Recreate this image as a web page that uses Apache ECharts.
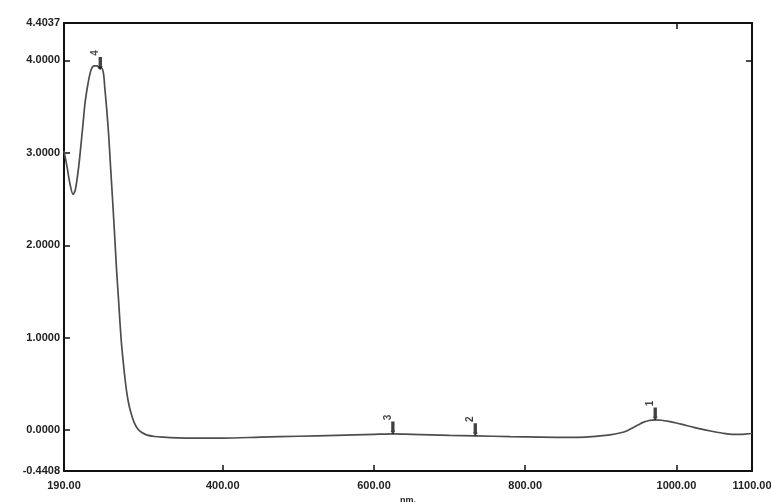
<!DOCTYPE html>
<html>
<head>
<meta charset="utf-8">
<script src="https://cdn.jsdelivr.net/npm/echarts@6/dist/echarts.min.js"></script>
<style>
html,body{margin:0;padding:0;background:#fff;}
#chart{width:771px;height:502px;}
</style>
</head>
<body>
<div id="chart"></div>
<script>
// Wavelength (nm) and absorbance
const wavelengths = [190,194,198,202,205,209,212,215,218,222,226,230,234,237,239,242,244,246.5,249,251,253,255,257.5,259.7,262,264,266,268.4,270.5,273,276,279.6,283,288,293,299,310,321,340,360,400,450,500,550,600,625,650,700,734,780,820,860,880,899,912,925,935,943,950,956,964,972,980,990,1000,1009,1020,1030,1045,1060,1075,1085,1093,1100];
const absorbance  = [3.02,2.85,2.66,2.55,2.6,2.82,3.05,3.3,3.55,3.76,3.9,3.94,3.94,3.91,3.92,3.87,3.7,3.47,3.2,2.93,2.66,2.39,2.03,1.71,1.43,1.17,0.94,0.735,0.57,0.41,0.27,0.16,0.08,0.01,-0.025,-0.05,-0.068,-0.075,-0.082,-0.085,-0.085,-0.075,-0.065,-0.055,-0.045,-0.04,-0.045,-0.055,-0.06,-0.07,-0.075,-0.078,-0.074,-0.062,-0.05,-0.03,-0.005,0.03,0.06,0.085,0.105,0.112,0.108,0.095,0.078,0.06,0.038,0.018,-0.008,-0.03,-0.045,-0.045,-0.04,-0.035];

// Picked peaks
const peakNm     = [972, 734, 625, 238];
const peakAbs    = [0.112, -0.06, -0.04, 3.9];
const peakLabels = ['1', '2', '3', '4'];

// Tick labels
const xTicks = [190, 400, 600, 800, 1000, 1100];
const yTicks = [-0.4408, 0, 1, 2, 3, 4, 4.4037];
const yTickMarks = [0, 1, 2, 3, 4];
const xMin = 190, xMax = 1100, yMin = -0.4408, yMax = 4.4037;

const lineData = wavelengths.map((w, i) => [w, absorbance[i]]);
const peakData = peakNm.map((w, i) => ({value: [w, peakAbs[i]], name: peakLabels[i]}));

const chart = echarts.init(document.getElementById('chart'), null, {renderer: 'canvas'});
const labelFont = {fontFamily: 'Liberation Sans, Arial, sans-serif', fontSize: 11, fontWeight: 'bold', color: '#222'};
const axisLineStyle = {lineStyle: {color: '#111', width: 2}};

chart.setOption({
  backgroundColor: '#fff',
  animation: false,
  grid: {left: 64, right: 19, top: 23, bottom: 31, containLabel: false, outerBoundsMode: 'none'},
  xAxis: [{
    type: 'value', min: xMin, max: xMax, position: 'bottom',
    name: 'nm.', nameLocation: 'middle', nameGap: 25,
    nameTextStyle: {fontFamily: 'Liberation Sans, Arial, sans-serif', fontSize: 9, fontWeight: 'bold', color: '#222'},
    axisLine: Object.assign({show: true, onZero: false}, axisLineStyle),
    axisTick: {show: true, inside: true, length: 6, lineStyle: {color: '#111', width: 1.5}, customValues: xTicks},
    axisLabel: Object.assign({margin: 9, customValues: xTicks, formatter: v => v.toFixed(2)}, labelFont),
    splitLine: {show: false}
  }, {
    type: 'value', min: xMin, max: xMax, position: 'top',
    axisLine: Object.assign({show: true, onZero: false}, axisLineStyle),
    axisTick: {show: true, inside: true, length: 6, lineStyle: {color: '#111', width: 1.5}, customValues: [1000]},
    axisLabel: {show: false},
    splitLine: {show: false}
  }],
  yAxis: [{
    type: 'value', min: yMin, max: yMax, position: 'left',
    axisLine: Object.assign({show: true, onZero: false}, axisLineStyle),
    axisTick: {show: true, inside: true, length: 6, lineStyle: {color: '#111', width: 1.5}, customValues: yTickMarks},
    axisLabel: Object.assign({margin: 4, customValues: yTicks, formatter: v => v.toFixed(4)}, labelFont),
    splitLine: {show: false}
  }, {
    type: 'value', min: yMin, max: yMax, position: 'right',
    axisLine: Object.assign({show: true, onZero: false}, axisLineStyle),
    axisTick: {show: true, inside: true, length: 6, lineStyle: {color: '#111', width: 1.5}, customValues: [4]},
    axisLabel: {show: false},
    splitLine: {show: false}
  }],
  series: [{
    type: 'line',
    data: lineData,
    smooth: 0.3,
    showSymbol: false,
    lineStyle: {color: '#4d4d4d', width: 1.7},
    z: 2
  }, {
    type: 'scatter',
    data: peakData,
    symbol: 'path://M0,0 L4,0 L4,10 L5,10 L2,14 L-1,10 L0,10 Z',
    symbolSize: [5, 13],
    symbolOffset: [0, -6],
    itemStyle: {color: '#111'},
    label: {
      show: true, position: 'top', distance: 4, rotate: 90,
      formatter: p => p.name,
      fontFamily: 'Liberation Sans, Arial, sans-serif', fontSize: 10, fontWeight: 'bold', color: '#111'
    },
    z: 3
  }]
});
</script>
</body>
</html>
